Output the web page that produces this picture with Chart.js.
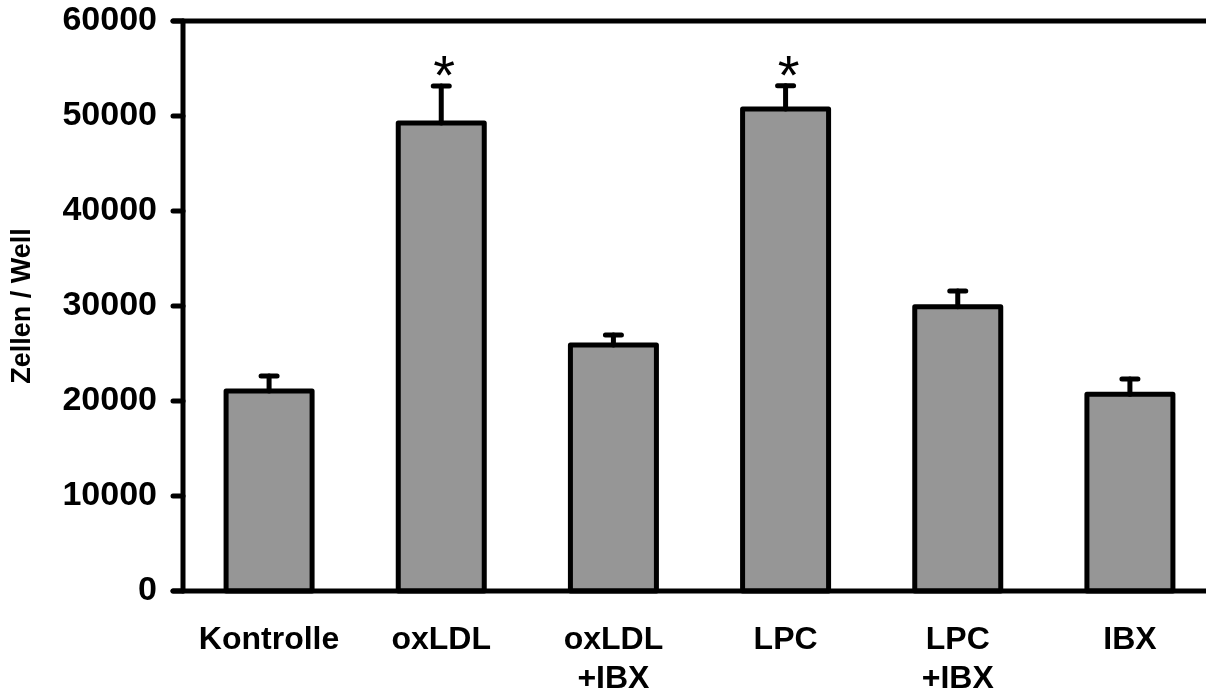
<!DOCTYPE html>
<html>
<head>
<meta charset="utf-8">
<script src="https://cdn.jsdelivr.net/npm/chart.js@4.4.1/dist/chart.umd.min.js"></script>
<style>
html,body{margin:0;padding:0;background:#fff;overflow:hidden;width:1206px;height:690px;}
#wrap{position:absolute;left:0;top:0;width:1216px;height:690px;}
</style>
</head>
<body>
<div id="wrap"><canvas id="c" width="1216" height="690"></canvas></div>
<script>
const categories = [["Kontrolle"], ["oxLDL"], ["oxLDL", "+IBX"], ["LPC"], ["LPC", "+IBX"], ["IBX"]];
const means = [21050, 49260, 25890, 50740, 29930, 20700];
const errorTops = [22630, 53160, 26950, 53190, 31580, 22320];
const significant = [false, true, false, true, false, false];
const yTicks = [0, 10000, 20000, 30000, 40000, 50000, 60000];
const yTitle = "Zellen / Well";

const FONT = "'Liberation Sans', Arial, sans-serif";

const decor = {
  id: 'decor',
  afterDatasetsDraw(chart) {
    const ctx = chart.ctx;
    const ys = chart.scales.y;
    const meta = chart.getDatasetMeta(0);
    ctx.save();
    ctx.strokeStyle = '#000';
    ctx.lineWidth = 5;
    ctx.lineCap = 'round';
    ctx.lineJoin = 'round';
    meta.data.forEach((bar, i) => {
      const x = bar.x;
      const w = bar.width;
      // bar outline centred on the bar's edges
      ctx.beginPath();
      ctx.rect(x - w / 2, bar.y, w, bar.base - bar.y);
      ctx.stroke();
      const yTop = ys.getPixelForValue(errorTops[i]);
      const yBar = ys.getPixelForValue(means[i]);
      ctx.beginPath();
      ctx.moveTo(x, yBar);
      ctx.lineTo(x, yTop);
      ctx.stroke();
      ctx.beginPath();
      ctx.moveTo(x - 8, yTop);
      ctx.lineTo(x + 8, yTop);
      ctx.stroke();
      if (significant[i]) {
        ctx.fillStyle = '#000';
        ctx.font = "56px " + FONT;
        ctx.textAlign = 'center';
        ctx.textBaseline = 'alphabetic';
        ctx.fillText('*', x + 3, yTop + 8);
      }
    });
    const left = chart.chartArea.left;
    const bottom = ys.getPixelForValue(0);
    const top = ys.getPixelForValue(60000);
    ctx.beginPath();
    ctx.moveTo(left, bottom);
    ctx.lineTo(left, top);
    ctx.stroke();
    ctx.beginPath();
    ctx.moveTo(left - 10, bottom);
    ctx.lineTo(chart.width + 10, bottom);
    ctx.stroke();
    ctx.beginPath();
    ctx.moveTo(left - 10, top);
    ctx.lineTo(chart.width + 10, top);
    ctx.stroke();
    yTicks.forEach(v => {
      const y = ys.getPixelForValue(v);
      ctx.beginPath();
      ctx.moveTo(left - 10, y);
      ctx.lineTo(left, y);
      ctx.stroke();
    });
    ctx.restore();
  }
};

new Chart(document.getElementById('c'), {
  type: 'bar',
  data: {
    labels: categories,
    datasets: [{
      data: means,
      backgroundColor: '#969696',
      borderWidth: 0,
      barThickness: 86
    }]
  },
  options: {
    responsive: false,
    animation: false,
    devicePixelRatio: 1,
    layout: { padding: { top: 21, left: 0, right: 0, bottom: 0 } },
    plugins: { legend: { display: false }, tooltip: { enabled: false } },
    scales: {
      x: {
        grid: { display: false, drawTicks: false },
        border: { display: false },
        ticks: {
          color: '#000',
          font: { family: FONT, size: 32, weight: 'bold', lineHeight: 1.22 },
          padding: 30,
          maxRotation: 0,
          autoSkip: false
        },
        afterFit(scale) { scale.height = 99; scale.paddingLeft = 0; scale.paddingRight = 0; }
      },
      y: {
        min: 0, max: 60000,
        grid: { display: false, drawTicks: false },
        border: { display: false },
        afterBuildTicks(scale) { scale.ticks = yTicks.map(v => ({ value: v })); },
        ticks: {
          color: '#000',
          font: { family: FONT, size: 34, weight: 'bold' },
          padding: 26,
          callback: v => String(v)
        },
        title: {
          display: true,
          text: yTitle,
          color: '#000',
          font: { family: FONT, size: 27, weight: 'bold', lineHeight: 1.2 },
          padding: { top: 6, bottom: 0 }
        },
        afterFit(scale) { scale.width = 183; scale.paddingTop = 0; scale.paddingBottom = 0; }
      }
    }
  },
  plugins: [decor]
});
</script>
</body>
</html>
